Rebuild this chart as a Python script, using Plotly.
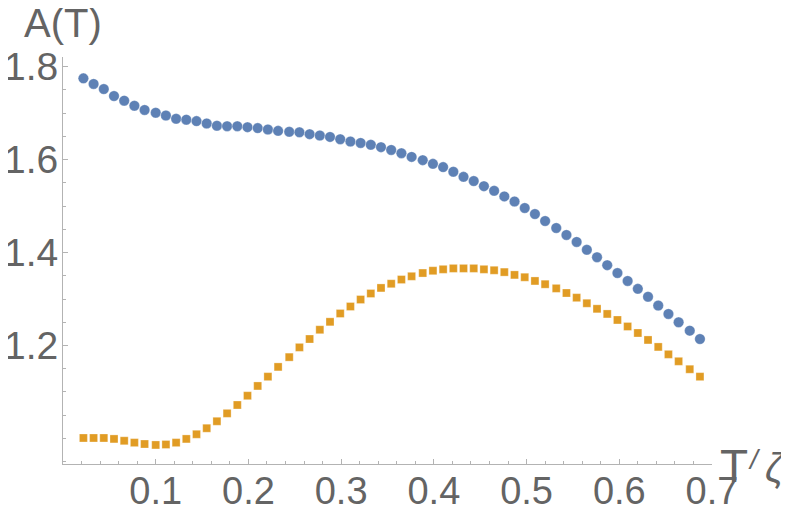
import plotly.graph_objects as go

# temperature grid (T / zeta)
T = [0.022, 0.033, 0.044, 0.055, 0.066, 0.077, 0.088, 0.100, 0.111, 0.122,
     0.133, 0.144, 0.155, 0.166, 0.177, 0.188, 0.199, 0.210, 0.221, 0.232,
     0.244, 0.255, 0.266, 0.277, 0.288, 0.299, 0.310, 0.321, 0.332, 0.343,
     0.354, 0.365, 0.376, 0.388, 0.399, 0.410, 0.421, 0.432, 0.443, 0.454,
     0.465, 0.476, 0.487, 0.498, 0.509, 0.520, 0.532, 0.543, 0.554, 0.565,
     0.576, 0.587, 0.598, 0.609, 0.620, 0.631, 0.642, 0.653, 0.664, 0.676,
     0.687]

# upper series (blue dots)
A_upper = [1.775, 1.763, 1.752, 1.737, 1.727, 1.716, 1.707, 1.701, 1.695, 1.688,
           1.686, 1.683, 1.678, 1.673, 1.672, 1.672, 1.670, 1.668, 1.665, 1.662,
           1.660, 1.659, 1.655, 1.652, 1.649, 1.644, 1.639, 1.636, 1.632, 1.627,
           1.621, 1.614, 1.606, 1.599, 1.591, 1.584, 1.574, 1.563, 1.554, 1.543,
           1.533, 1.521, 1.510, 1.496, 1.483, 1.468, 1.453, 1.438, 1.423, 1.406,
           1.390, 1.373, 1.356, 1.339, 1.322, 1.305, 1.286, 1.268, 1.250, 1.232,
           1.214]

# lower series (orange squares)
A_lower = [1.001, 1.001, 1.001, 0.999, 0.995, 0.991, 0.988, 0.986, 0.987, 0.991,
           0.999, 1.009, 1.022, 1.037, 1.054, 1.072, 1.092, 1.113, 1.133, 1.154,
           1.175, 1.196, 1.214, 1.234, 1.251, 1.269, 1.284, 1.299, 1.312, 1.324,
           1.333, 1.342, 1.349, 1.356, 1.361, 1.364, 1.366, 1.366, 1.366, 1.364,
           1.362, 1.358, 1.352, 1.347, 1.339, 1.332, 1.323, 1.313, 1.303, 1.291,
           1.279, 1.268, 1.255, 1.241, 1.227, 1.212, 1.197, 1.181, 1.166, 1.149,
           1.133]

x_ticks = [0.1, 0.2, 0.3, 0.4, 0.5, 0.6, 0.7]
y_ticks = [1.2, 1.4, 1.6, 1.8]

text_col = "#646464"
axis_col = "#b3b3b3"
font = "Liberation Sans, Arial, sans-serif"

fig = go.Figure()
fig.add_trace(go.Scatter(x=T, y=A_upper, mode="markers",
                         marker=dict(symbol="circle", size=10.5, color="#5E81B5",
                                     line=dict(color="rgba(255,255,255,0.6)", width=0.5))))
fig.add_trace(go.Scatter(x=T, y=A_lower, mode="markers",
                         marker=dict(symbol="square", size=8, color="#E19C24",
                                     line=dict(color="rgba(255,255,255,0.6)", width=0.5))))

# the page body adds an 8px offset, so the figure is a bit smaller than the window
fig.update_layout(
    width=781, height=510,
    margin=dict(l=55, r=77, t=49, b=54),
    plot_bgcolor="white", paper_bgcolor="white",
    showlegend=False,
    font=dict(family=font, color=text_col),
    xaxis=dict(range=[0, 0.7], tickmode="array", tickvals=x_ticks,
               ticktext=[str(v) for v in x_ticks], automargin=False,
               showgrid=False, zeroline=False, showline=True,
               linecolor=axis_col, linewidth=1,
               ticks="inside", ticklen=5, tickcolor=axis_col,
               tickfont=dict(size=38, color=text_col), ticklabelstandoff=-7,
               minor=dict(tickmode="linear", tick0=0, dtick=0.02,
                          ticks="inside", ticklen=3, tickcolor=axis_col)),
    yaxis=dict(range=[0.945, 1.821], tickmode="array", tickvals=y_ticks,
               ticktext=[str(v) for v in y_ticks], automargin=False,
               showgrid=False, zeroline=False, showline=True,
               linecolor=axis_col, linewidth=1,
               ticks="inside", ticklen=5, tickcolor=axis_col,
               tickfont=dict(size=39, color=text_col), ticklabelstandoff=-4,
               minor=dict(tickmode="linear", tick0=1.0, dtick=0.05,
                          ticks="inside", ticklen=3, tickcolor=axis_col)),
    annotations=[
        dict(text="A(T)", xref="paper", yref="paper", x=-0.063, y=1.084,
             xanchor="left", yanchor="middle", showarrow=False,
             font=dict(size=40, color=text_col)),
        dict(text="T", xref="paper", yref="paper", x=1.034, y=-0.006,
             xanchor="center", yanchor="middle", showarrow=False,
             font=dict(size=46, color=text_col)),
        dict(text="<i>/</i>", xref="paper", yref="paper", x=1.065, y=0.012,
             xanchor="center", yanchor="middle", showarrow=False,
             font=dict(size=28, color=text_col)),
        dict(text="<i>ζ</i>", xref="paper", yref="paper", x=1.098, y=-0.010,
             xanchor="center", yanchor="middle", showarrow=False,
             font=dict(size=40, color=text_col)),
    ],
)

fig.write_html("out.html")
